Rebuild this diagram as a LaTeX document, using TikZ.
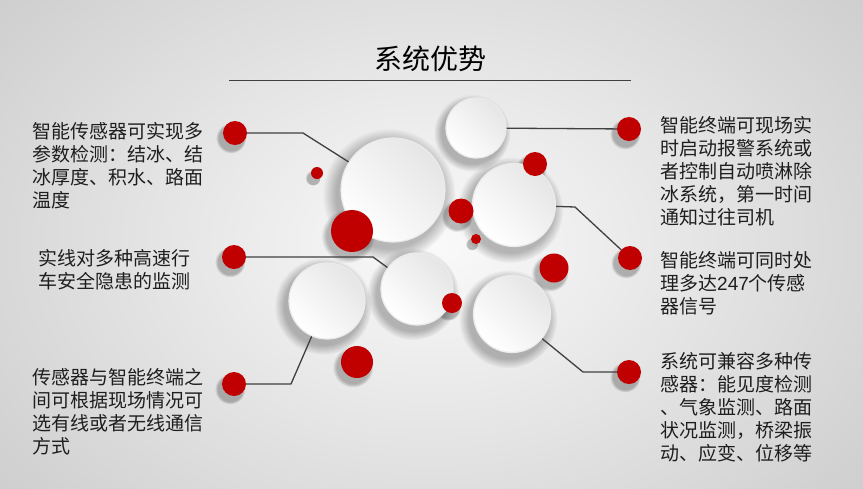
\documentclass[tikz,border=0pt]{standalone}
\usepackage{fontspec}
\setmainfont{Liberation Sans}
\newfontfamily\cjk{Noto Sans CJK SC}
\usetikzlibrary{fadings}
\definecolor{dotred}{HTML}{C00000}
\definecolor{txt}{HTML}{1E1E1E}
\definecolor{linegray}{HTML}{404040}
\tikzset{
  wcirc/.style={circle, inner sep=0pt, minimum size=#1, top color=black!10, bottom color=white, shading angle=-45, draw=white!92!black, line width=1.2pt},
  rdot/.style={circle, inner sep=0pt, minimum size=#1, fill=dotred},
  conn/.style={draw=linegray, line width=1.3pt},
  desc/.style={anchor=north west, inner sep=0pt, align=left, text=txt, font=\cjk\fontsize{19}{23}\selectfont},
}
\newcommand{\softshade}[3]{%
  \fill[black, opacity=0.26, path fading=circle with fuzzy edge 20 percent] (#1-4,#2+5) circle ({#3*1.28});}
\begin{document}
\begin{tikzpicture}[x=1pt, y=-1pt]
\useasboundingbox (0,0) rectangle (863,488);
\shade[inner color=white!98!black, outer color=black!19] (-120,-150) rectangle (983,638);
% title
\node[font=\cjk\fontsize{28}{30}\selectfont, text=black] (title) at (430,59) {系统优势};
\draw[linegray, line width=1pt] (229,80) -- (631,80);
% shadows
\softshade{393}{190}{52}
\softshade{476}{128}{30}
\softshade{514}{205}{41.5}
\softshade{417}{289}{36}
\softshade{327}{301}{38}
\softshade{512}{314}{38.5}
\softshade{317}{173}{6}
\softshade{352}{231}{21}
\softshade{461}{211}{12.5}
\softshade{476}{239}{5}
\softshade{535}{164}{12}
\softshade{554}{268}{14.5}
\softshade{452}{303}{10}
\softshade{357}{362}{16}
\softshade{235}{133}{12}
\softshade{234}{257}{12}
\softshade{234}{384}{12}
\softshade{629}{129}{12}
\softshade{630}{258}{12}
\softshade{629}{372}{12}
% connector bend points
\coordinate (b1) at (303,133);
\coordinate (b2) at (373,257);
\coordinate (b3) at (291,384);
\coordinate (b4) at (575,207);
\coordinate (b5) at (583,372);
% side dots (positions)
\node[rdot=24] (l1) at (235,133) {};
\node[rdot=24] (l2) at (234,257) {};
\node[rdot=24] (l3) at (234,384) {};
\node[rdot=24] (r1) at (629,129) {};
\node[rdot=24] (r2) at (630,258) {};
\node[rdot=24] (r3) at (629,372) {};
% white circles
\node[wcirc=104] (c1) at (393,190) {};
\node[wcirc=60] (c2) at (476,128) {};
\node[wcirc=83] (c3) at (514,205) {};
\node[wcirc=72] (c4) at (417,289) {};
\node[wcirc=76] (c5) at (327,301) {};
\node[wcirc=77] (c6) at (512,314) {};
% connectors
\draw[conn] (l1) -- (b1) -- (c1);
\draw[conn] (r1) -- (c2);
\draw[conn] (l2) -- (b2) -- (c4);
\draw[conn] (l3) -- (b3) -- (c5);
\draw[conn] (c3) -- (b4) -- (r2);
\draw[conn] (r3) -- (b5) -- (c6);
% central red dots
\node[rdot=12] (d1) at (317,173) {};
\node[rdot=42] (d2) at (352,231) {};
\node[rdot=25] (d3) at (461,211) {};
\node[rdot=10] (d4) at (476,239) {};
\node[rdot=24] (d5) at (535,164) {};
\node[rdot=29] (d6) at (554,268) {};
\node[rdot=20] (d7) at (452,303) {};
\node[rdot=32] (d8) at (357,362) {};
% texts
\node[desc] (t1) at (32,122) {智能传感器可实现多\\参数检测：结冰、结\\冰厚度、积水、路面\\温度};
\node[desc] (t2) at (38,249) {实线对多种高速行\\车安全隐患的监测};
\node[desc] (t3) at (32,368) {传感器与智能终端之\\间可根据现场情况可\\选有线或者无线通信\\方式};
\node[desc] (t4) at (660,116) {智能终端可现场实\\时启动报警系统或\\者控制自动喷淋除\\冰系统，第一时间\\通知过往司机};
\node[desc] (t5) at (660,251) {智能终端可同时处\\理多达{\rmfamily 247}个传感\\器信号};
\node[desc] (t6) at (660,352) {系统可兼容多种传\\感器：能见度检测\\、气象监测、路面\\状况监测，桥梁振\\动、应变、位移等};
\end{tikzpicture}
\end{document}
